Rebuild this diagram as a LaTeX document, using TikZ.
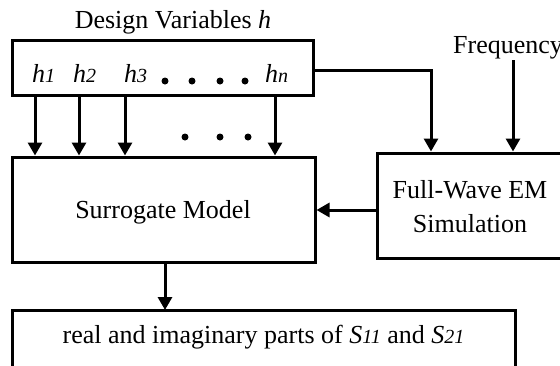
\documentclass[tikz,border=0pt]{standalone}
\usepackage{fontspec}
\setmainfont{Liberation Serif}
\usetikzlibrary{arrows.meta}

\newcommand{\hvar}[1]{{\itshape h\fontsize{20}{20}\selectfont #1}}

\begin{document}
\begin{tikzpicture}[x=1pt,y=-1pt,
  every node/.style={font=\fontsize{26}{30}\selectfont, inner sep=0pt},
  blockbox/.style={draw=black, line width=3pt, rectangle},
  arr/.style={line width=3pt, -{Triangle[length=13pt,width=14pt]}},
  ddot/.style={fill=black, circle, minimum size=7pt, inner sep=0pt}]
  \useasboundingbox (0,0) rectangle (560,365);
  \clip (0,0) rectangle (560,365);

  % title above the variable box
  \node[anchor=base] (title) at (173,28) {Design Variables \textit{h}};

  % design variable box
  \node[blockbox, minimum width=301pt, minimum height=55pt] (vars) at (162.5,67.5) {};
  \node[anchor=base west] (h1) at (32,82.5) {\hvar{1}};
  \node[anchor=base west] (h2) at (73,82.5) {\hvar{2}};
  \node[anchor=base west] (h3) at (124,82.5) {\hvar{3}};
  \node[anchor=base west] (hn) at (265,82.5) {\hvar{n}};
  \foreach \i/\x in {1/165,2/192,3/220,4/245}
    \node[ddot] (d\i) at (\x,81) {};

  % surrogate model
  \node[blockbox, minimum width=303pt, minimum height=105pt] (sur) at (163.5,209.5) {};
  \node (surtext) at (163,212) {Surrogate Model};

  % full-wave EM simulation
  \node[blockbox, minimum width=186pt, minimum height=105pt] (em) at (470,205.5) {};
  \node[align=center, anchor=base] (emtext) at (470,232) {Full-Wave EM\\[4pt]Simulation};

  % output block (runs off the lower edge)
  \draw[blockbox] (12,310) rectangle (515,390);
  \coordinate (outtop) at (165,310);
  \node (outtext) at (263.5,337)
    {real and imaginary parts of \textit{S}{\itshape\fontsize{20}{20}\selectfont 11} and \textit{S}{\itshape\fontsize{20}{20}\selectfont 21}};

  % frequency input
  \node[anchor=base west] (freq) at (453,53) {Frequency};
  \coordinate (fstart) at (513,60);
  \draw[arr] (fstart) -- (em.north -| fstart);

  % variable arrows into the surrogate model
  \foreach \x in {35,79,125,275} {
    \coordinate (a\x) at (\x,95);
    \draw[arr] (a\x) -- (sur.north -| a\x);
  }
  \foreach \i/\x in {5/185,6/220,7/248}
    \node[ddot] (d\i) at (\x,137) {};

  % variables also feed the EM simulation
  \coordinate (vout) at (313,70);
  \coordinate (vbend) at (431,70);
  \draw[arr] (vout) -- (vbend) -- (em.north -| vbend);

  % EM simulation trains the surrogate
  \coordinate (emout) at (377,210);
  \draw[arr] (emout) -- (sur.east |- emout);

  % surrogate output
  \draw[arr] (sur.south -| outtop) -- (outtop);
\end{tikzpicture}
\end{document}
